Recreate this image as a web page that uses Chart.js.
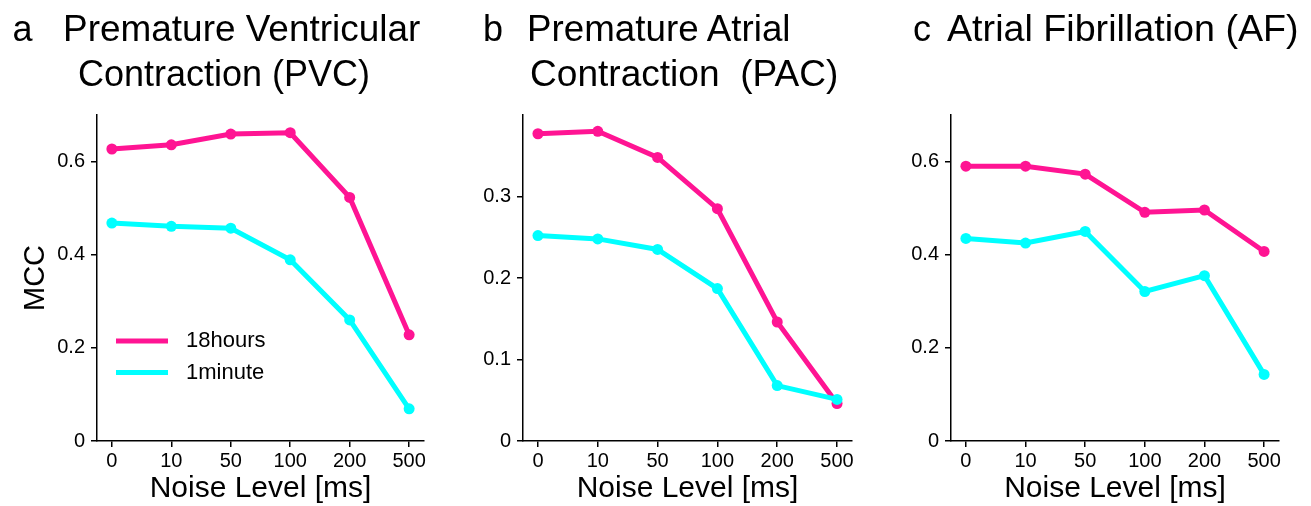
<!DOCTYPE html>
<html><head><meta charset="utf-8">
<script src="https://cdn.jsdelivr.net/npm/chart.js@4.4.1/dist/chart.umd.min.js"></script>
<style>
html,body{margin:0;padding:0;background:#fff;width:1311px;height:506px;overflow:hidden;position:relative;}
canvas{position:absolute;top:0;}
.t{position:absolute;font-family:'Liberation Sans',Arial,sans-serif;font-size:36px;line-height:36px;white-space:pre;color:#000;transform-origin:0 0;}
</style></head><body>
<canvas id="ca" width="445" height="506" style="left:0px"></canvas>
<canvas id="cb" width="432" height="506" style="left:440px"></canvas>
<canvas id="cc" width="431" height="506" style="left:868px"></canvas>
<div id="titles"></div>
<script>
// ---- data ----
const noiseLevels = ['0', '10', '50', '100', '200', '500'];
const seriesLabels = ['18hours', '1minute'];
const pvc18h = [0.627, 0.636, 0.659, 0.662, 0.523, 0.228];
const pvc1m  = [0.468, 0.461, 0.457, 0.389, 0.260, 0.069];
const pac18h = [0.377, 0.380, 0.348, 0.285, 0.146, 0.046];
const pac1m  = [0.252, 0.248, 0.235, 0.187, 0.068, 0.051];
const af18h  = [0.590, 0.590, 0.573, 0.491, 0.496, 0.407];
const af1m   = [0.435, 0.425, 0.450, 0.321, 0.355, 0.143];
const yTicksA = [0, 0.2, 0.4, 0.6];
const yTickLabelsA = ['0', '0.2', '0.4', '0.6'];
const yTicksB = [0, 0.1, 0.2, 0.3];
const yTickLabelsB = ['0', '0.1', '0.2', '0.3'];
const yTicksC = [0, 0.2, 0.4, 0.6];
const yTickLabelsC = ['0', '0.2', '0.4', '0.6'];
const xTitle = 'Noise Level [ms]';
const yTitle = 'MCC';
const titleLines = [
  {text: 'a', l: 12.5, b: 41},
  {text: 'Premature Ventricular', l: 62.7, r: 420, b: 41},
  {text: 'Contraction (PVC)', l: 78, r: 370, b: 86},
  {text: 'b', l: 483, b: 41},
  {text: 'Premature Atrial', l: 526.5, r: 790, b: 41},
  {text: 'Contraction  (PAC)', l: 530, r: 838.3, b: 86},
  {text: 'c', l: 913, b: 41},
  {text: 'Atrial Fibrillation (AF)', l: 946.7, r: 1298.3, b: 41}
];

const PINK = '#ff1493';
const CYAN = '#00ffff';
const FAM = "'Liberation Sans', Arial, sans-serif";

// ---- titles ----
const tHost = document.getElementById('titles');
titleLines.forEach(t => {
  const s = document.createElement('div');
  s.className = 't';
  s.textContent = t.text;
  s.style.left = t.l + 'px';
  s.style.top = (t.b - 0.8465 * 36) + 'px';
  tHost.appendChild(s);
  if (t.r) {
    const w = s.getBoundingClientRect().width;
    s.style.transform = 'scaleX(' + ((t.r - t.l) / w) + ')';
  }
});

// ---- inside legend plugin ----
const insideLegend = {
  id: 'insideLegend',
  afterDatasetsDraw(chart, args, o) {
    if (!o || !o.show) return;
    const ctx = chart.ctx, a = chart.chartArea;
    chart.data.datasets.forEach((ds, i) => {
      const y = a.top + o.y + i * o.gap;
      ctx.save();
      ctx.strokeStyle = ds.borderColor;
      ctx.lineWidth = 5;
      ctx.beginPath();
      ctx.moveTo(a.left + o.x, y);
      ctx.lineTo(a.left + o.x + o.len, y);
      ctx.stroke();
      ctx.fillStyle = '#000';
      ctx.font = '22px ' + FAM;
      ctx.textBaseline = 'middle';
      ctx.textAlign = 'left';
      ctx.fillText(ds.label, a.left + o.x + o.len + o.textGap, y);
      ctx.restore();
    });
  }
};

function makePanel(id, yW, padRight, yMax, yTicks, yTickLabels, s18, s1, showY, showLegend) {
  const ds = (label, vals, color, order) => ({
    label, order,
    data: vals.map((v, i) => ({x: i, y: v})),
    borderColor: color, backgroundColor: color,
    borderWidth: 5, pointRadius: 5.5, pointBorderWidth: 0,
    pointBackgroundColor: color, pointHoverRadius: 5.5,
    tension: 0, clip: false
  });
  new Chart(document.getElementById(id), {
    type: 'line',
    data: {datasets: [ds(seriesLabels[0], s18, PINK, 1), ds(seriesLabels[1], s1, CYAN, 0)]},
    plugins: [insideLegend],
    options: {
      responsive: false, animation: false, devicePixelRatio: 1,
      layout: {padding: {left: 0, right: padRight, top: 115, bottom: 0}},
      plugins: {
        legend: {display: false}, tooltip: {enabled: false},
        insideLegend: {show: showLegend, x: 19, len: 52, textGap: 18, y: 226, gap: 31.5}
      },
      scales: {
        x: {
          type: 'linear', min: -0.25, max: 5.25,
          afterBuildTicks(s) { s.ticks = noiseLevels.map((_, i) => ({value: i})); },
          afterFit(s) { s.height = 65; },
          ticks: {callback: (v) => noiseLevels[v], font: {size: 20, family: FAM}, color: '#000',
                  padding: 2, maxRotation: 0, autoSkip: false},
          grid: {drawOnChartArea: false, drawTicks: true, tickLength: 6, color: '#000', lineWidth: 1.5},
          border: {color: '#000', width: 1.5},
          title: {display: true, text: xTitle, color: '#000',
                  font: {size: 30, family: FAM, lineHeight: 1}, padding: {top: 0, bottom: 2}}
        },
        y: {
          min: 0, max: yMax,
          afterBuildTicks(s) { s.ticks = yTicks.map(v => ({value: v})); },
          afterFit(s) { s.width = yW; },
          ticks: {callback: (v, i) => yTickLabels[i], font: {size: 20, family: FAM}, color: '#000', padding: 6},
          grid: {drawOnChartArea: false, drawTicks: true, tickLength: 6, color: '#000', lineWidth: 1.5},
          border: {color: '#000', width: 1.5},
          title: {display: showY, text: yTitle, color: '#000',
                  font: {size: 29, family: FAM, lineHeight: 1}, padding: {top: 21, bottom: 0}}
        }
      }
    }
  });
}

makePanel('ca', 97, 21, 0.7, yTicksA, yTickLabelsA, pvc18h, pvc1m, true, true);
makePanel('cb', 83, 20, 0.4, yTicksB, yTickLabelsB, pac18h, pac1m, false, false);
makePanel('cc', 83, 20, 0.7, yTicksC, yTickLabelsC, af18h, af1m, false, false);
</script>
</body></html>
